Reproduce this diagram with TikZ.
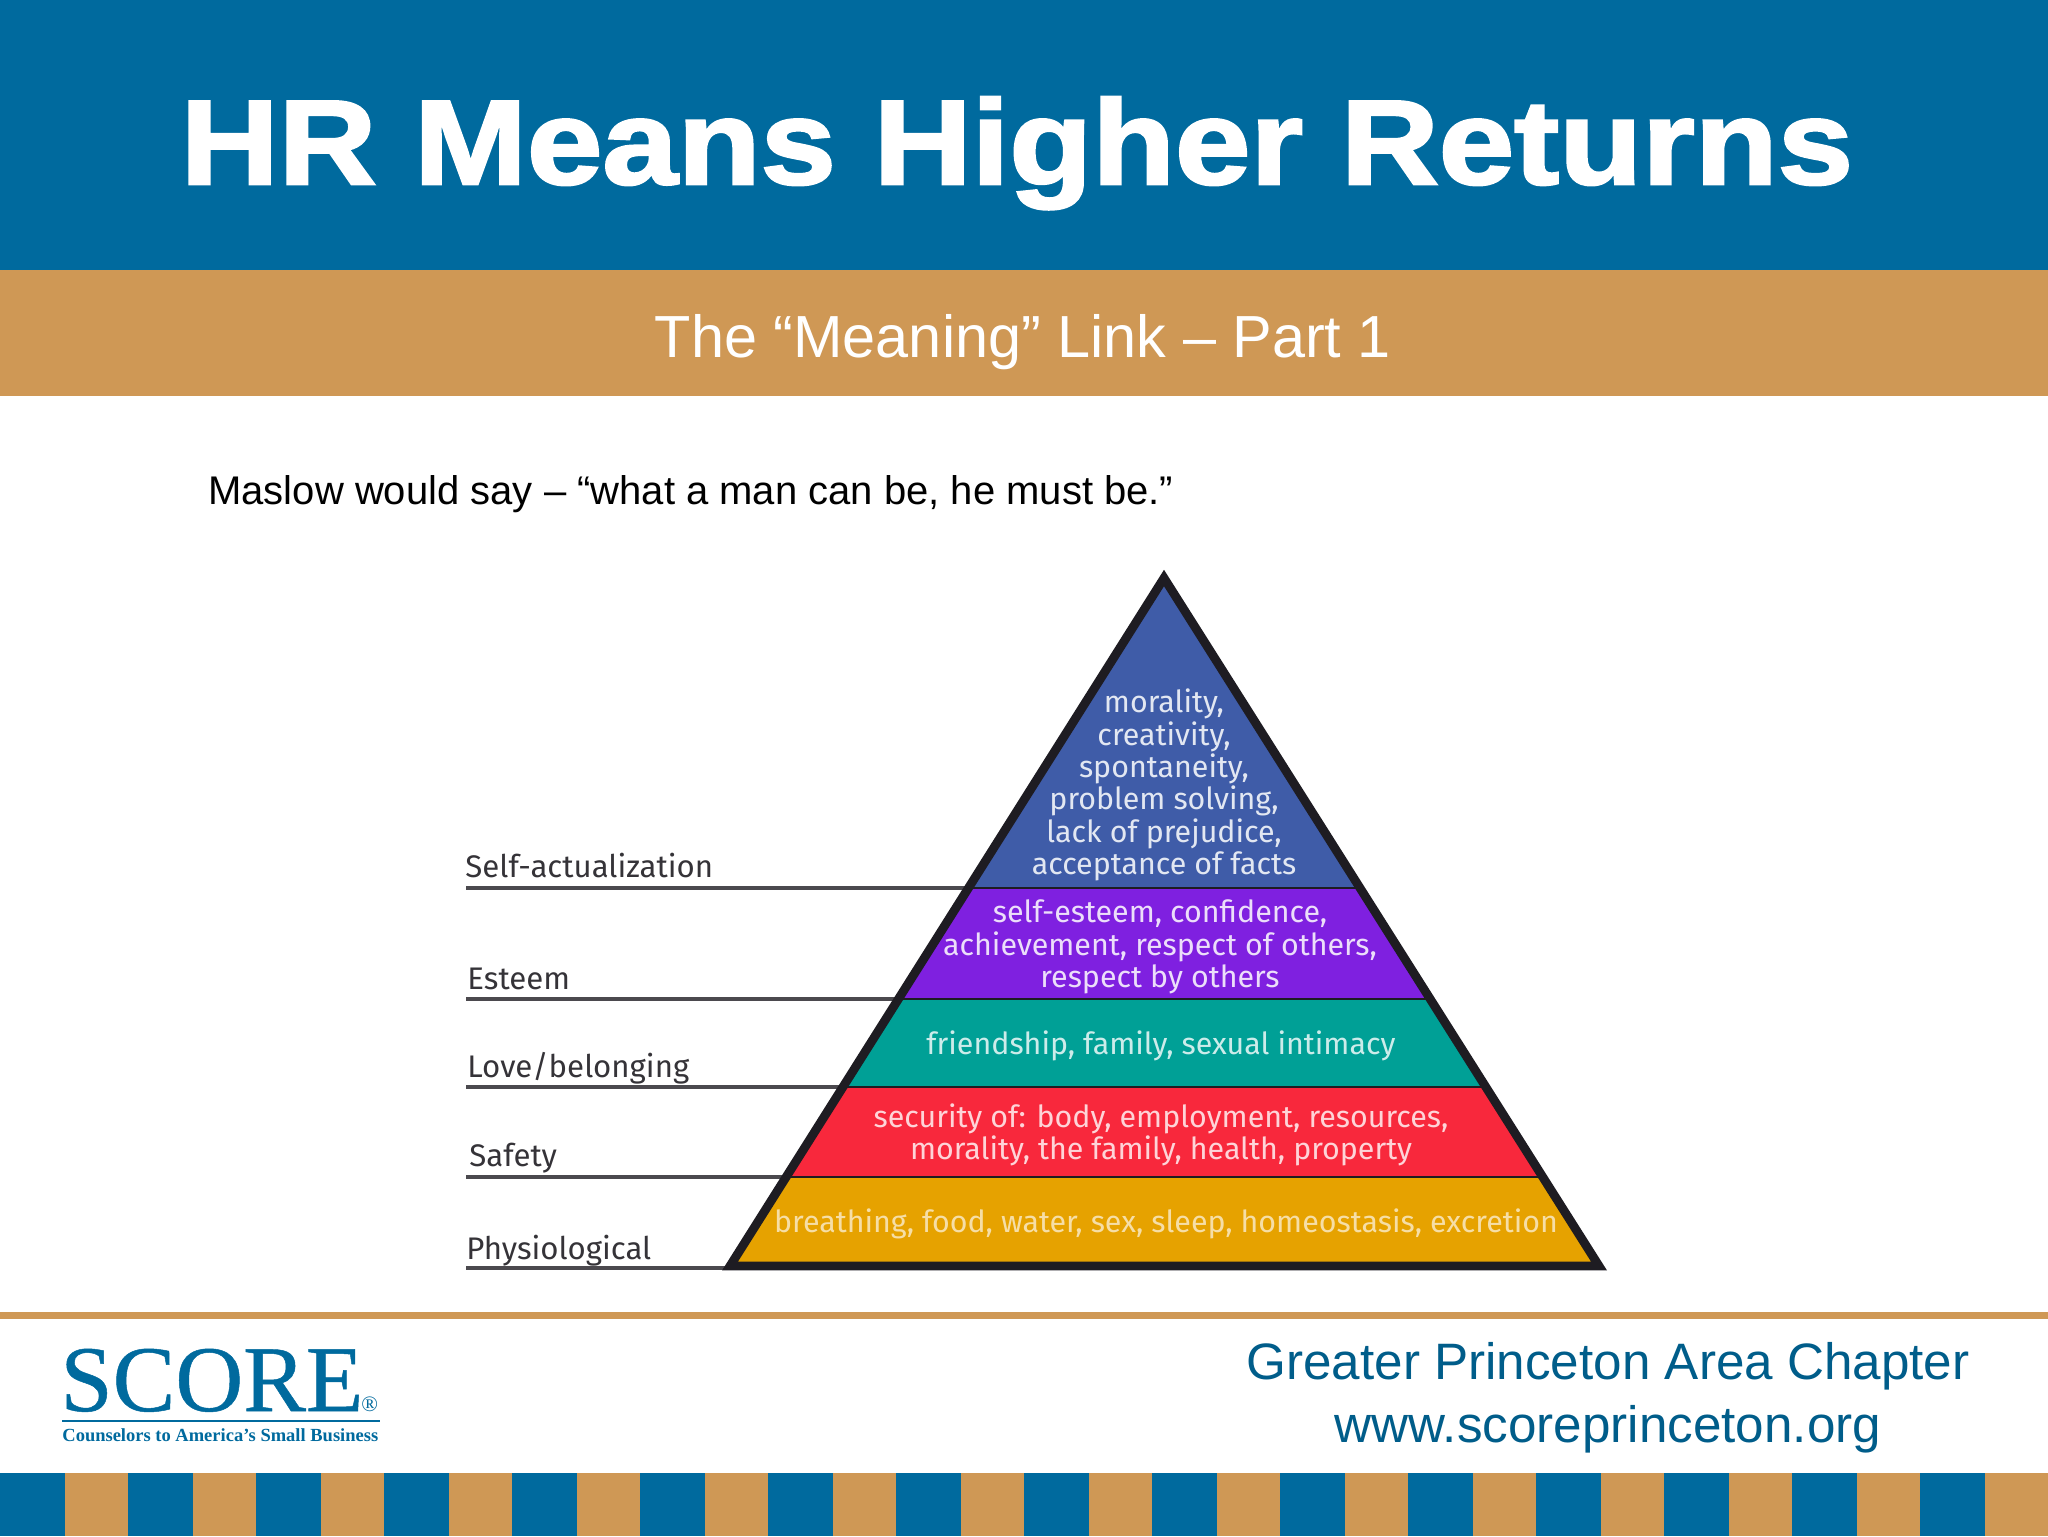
\documentclass[tikz,border=0pt]{standalone}
\usepackage{fontspec}
\setmainfont{Liberation Sans}
\newfontfamily\titlefont[FakeStretch=1.13,FakeBold=2.2]{Liberation Sans Bold}
\newfontfamily\pyrfont{Fira Sans}
\newfontfamily\logofont[FakeBold=0.5]{Liberation Serif}
\newfontfamily\tagfont{Liberation Serif}
\definecolor{scoreblue}{HTML}{006A9E}
\definecolor{scoretan}{HTML}{CF9855}
\definecolor{footblue}{HTML}{005D8A}
\definecolor{pyrblue}{HTML}{3F5CA8}
\definecolor{pyrpurple}{HTML}{7F20E0}
\definecolor{pyrteal}{HTML}{00A096}
\definecolor{pyrred}{HTML}{F8283C}
\definecolor{pyrgold}{HTML}{E6A200}
\definecolor{pyrdark}{HTML}{1E1C22}
\tikzset{
  x=0.5pt,y=-0.5pt,
  tier/.style={font=\pyrfont\fontsize{15.2}{16.2}\selectfont,align=center,inner sep=0pt},
  side/.style={font=\pyrfont\fontsize{15.6}{18}\selectfont,text=pyrdark!90!white,anchor=base west,inner sep=0pt},
  leader/.style={draw=pyrdark!80!white,line width=1.8pt},
}
\begin{document}
\begin{tikzpicture}
\useasboundingbox (0,0) rectangle (2048,1536);
\fill[white] (0,0) rectangle (2048,1536);
\fill[scoreblue] (0,0) rectangle (2048,270);
\fill[scoretan] (0,270) rectangle (2048,396);
\fill[scoretan] (0,1312) rectangle (2048,1319);
% bottom stripes
\fill[scoretan] (0,1473) rectangle (2048,1536);
\foreach \k in {0,...,15} { \fill[scoreblue] ({\k*128},1473) rectangle ({\k*128+65},1536); }
% texts
\node[font=\titlefont\fontsize{60}{60}\selectfont,text=white,anchor=base,inner sep=0pt] (title) at (1017,184) {HR Means Higher Returns};
\node[font=\fontsize{29.7}{30}\selectfont,text=white,anchor=base,inner sep=0pt] (subtitle) at (1023,357) {The “Meaning” Link – Part 1};
\node[font=\fontsize{20}{20}\selectfont,text=black,anchor=base west,inner sep=0pt] (quote) at (208,504) {Maslow would say – “what a man can be, he must be.”};
\node[font=\fontsize{25.6}{26}\selectfont,text=footblue,anchor=base,inner sep=0pt] (chapter) at (1608,1379) {Greater Princeton Area Chapter};
\node[font=\fontsize{25.6}{26}\selectfont,text=footblue,anchor=base,inner sep=0pt] (web) at (1608,1442) {www.scoreprinceton.org};
% logo
\node[font=\logofont\fontsize{47}{47}\selectfont,text=scoreblue,anchor=base west,inner sep=0pt] (logo) at (60,1411) {SCORE};
\node[font=\tagfont\fontsize{11}{11}\selectfont,text=scoreblue,anchor=base west,inner sep=0pt] (reg) at (361,1411) {®};
\coordinate (ruleL) at (62,1421);
\coordinate (ruleR) at (380,1421);
\draw[scoreblue,line width=1pt] (ruleL) -- (ruleR);
\node[font=\tagfont\bfseries\fontsize{9.25}{9.25}\selectfont,text=scoreblue,anchor=base west,inner sep=0pt] (tag) at (62,1441) {Counselors to America’s Small Business};
% pyramid
\coordinate (apex) at (1164,578);
\coordinate (bl) at (730,1266);
\coordinate (br) at (1599,1266);
\begin{scope}
\clip (apex) -- (br) -- (bl) -- cycle;
\fill[pyrblue] (700,560) rectangle (1620,888);
\fill[pyrpurple] (700,888) rectangle (1620,999);
\fill[pyrteal] (700,999) rectangle (1620,1087);
\fill[pyrred] (700,1087) rectangle (1620,1177);
\fill[pyrgold] (700,1177) rectangle (1620,1268);
\end{scope}
\coordinate (l1) at (466,888);\coordinate (l2) at (466,999);\coordinate (l3) at (466,1087);\coordinate (l4) at (466,1177);\coordinate (l5) at (466,1268);
\coordinate (p1) at (966,888);\coordinate (p2) at (896,999);\coordinate (p3) at (840,1087);\coordinate (p4) at (783,1177);\coordinate (p5) at (726,1268);
\coordinate (q1) at (1362,888);\coordinate (q2) at (1432,999);\coordinate (q3) at (1488,1087);\coordinate (q4) at (1545,1177);
\foreach \i in {1,...,5} { \draw[leader] (l\i) -- (p\i); }
\foreach \i in {1,...,4} { \draw[pyrdark,line width=1.4pt] (p\i) -- (q\i); }
\draw[pyrdark,line width=4.4pt,line join=miter,miter limit=10] (apex) -- (br) -- (bl) -- cycle;
% tier text
\node[tier,text=white!85!pyrblue] (t1) at (1164,785) {morality,\\creativity,\\spontaneity,\\problem solving,\\lack of prejudice,\\acceptance of facts};
\node[tier,text=white!85!pyrpurple] (t2) at (1160,947) {self-esteem, confidence,\\achievement, respect of others,\\respect by others};
\node[tier,text=white!80!pyrteal] (t3) at (1161,1046) {friendship, family, sexual intimacy};
\node[tier,text=white!80!pyrred] (t4) at (1161,1135) {security of: body, employment, resources,\\morality, the family, health, property};
\node[tier,text=white!65!pyrgold] (t5) at (1166,1224) {breathing, food, water, sex, sleep, homeostasis, excretion};
% side labels
\node[side] (s1) at (465,877) {Self-actualization};
\node[side] (s2) at (467,989) {Esteem};
\node[side] (s3) at (467,1077) {Love/belonging};
\node[side] (s4) at (469,1166) {Safety};
\node[side] (s5) at (466,1259) {Physiological};
\end{tikzpicture}
\end{document}
